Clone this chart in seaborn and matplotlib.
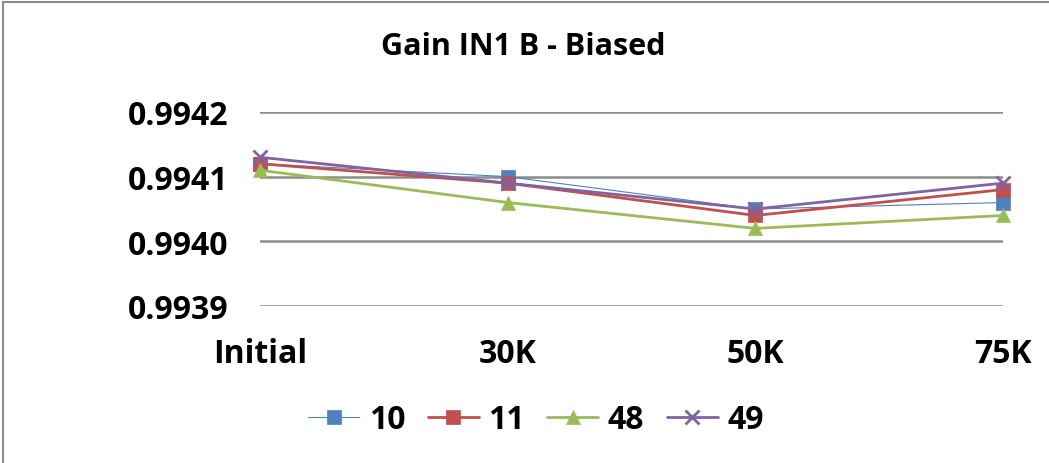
import pandas as pd
import seaborn as sns
import matplotlib.pyplot as plt
from matplotlib.lines import Line2D

# data
stages = ["Initial", "30K", "50K", "75K"]
s10 = [0.99412, 0.99410, 0.99405, 0.99406]
s11 = [0.99412, 0.99409, 0.99404, 0.99408]
s48 = [0.99411, 0.99406, 0.99402, 0.99404]
s49 = [0.99413, 0.99409, 0.99405, 0.99409]
series_names = ["10", "11", "48", "49"]
yticks = [0.9939, 0.9940, 0.9941, 0.9942]

colors = ["#4F81BD", "#C0504D", "#9BBB59", "#8064A2"]
markers = ["s", "s", "^", "x"]
widths = [0.8, 2.0, 2.0, 2.0]

sns.set_theme(style="white")
plt.rcParams['font.family'] = ['Open Sans', 'DejaVu Sans']
plt.rcParams['text.color'] = 'black'
plt.rcParams['xtick.color'] = 'black'
plt.rcParams['ytick.color'] = 'black'

fig = plt.figure(figsize=(10.49, 4.64), dpi=100)
ax = fig.add_axes([260 / 1049, 1 - 307 / 464, (1003 - 260) / 1049, (307 - 113) / 464])

for name, vals, c, m, lw in zip(series_names, [s10, s11, s48, s49], colors, markers, widths):
    df = pd.DataFrame({"stage": stages, "gain": vals})
    ms = 10.5 if m != "x" else 9.5
    sns.lineplot(data=df, x="stage", y="gain", ax=ax, color=c, linewidth=lw,
                 marker=m, markersize=ms, markeredgecolor=c,
                 markeredgewidth=2 if m == "x" else 0.5, label=name, clip_on=False)

ax.set_xlim(0, 3)
ax.set_ylim(0.9939, 0.9942)
ax.set_yticks(yticks)
ax.set_yticklabels([f"{v:.4f}" for v in yticks])
ax.yaxis.grid(True, color="#8c8c8c", linewidth=1.8)
ax.set_axisbelow(True)
for sp in ax.spines.values():
    sp.set_visible(False)
ax.tick_params(axis="y", labelsize=23, pad=23, length=0)
ax.tick_params(axis="x", labelsize=23, pad=22, length=0)
for lab in ax.get_xticklabels() + ax.get_yticklabels():
    lab.set_fontweight("bold")
ax.set_xlabel("")
ax.set_ylabel("")

ax.legend(loc="center", bbox_to_anchor=(536 / 1049, 1 - 421 / 464),
          bbox_transform=fig.transFigure, ncol=4, frameon=False,
          prop={"size": 23, "weight": "bold"}, handlelength=1.6,
          handletextpad=0.3, columnspacing=0.7)

fig.text(523 / 1049, 1 - 47 / 464, "Gain IN1 B - Biased", ha="center", va="center",
         fontsize=22, fontweight="bold")

# chart frame (top and left edges visible)
fig.add_artist(Line2D([3 / 1049, 1], [1 - 3 / 464, 1 - 3 / 464], color="#8c8c8c", linewidth=1.5))
fig.add_artist(Line2D([3 / 1049, 3 / 1049], [0, 1 - 3 / 464], color="#8c8c8c", linewidth=1.5))

fig.savefig("out.png", dpi=100)
